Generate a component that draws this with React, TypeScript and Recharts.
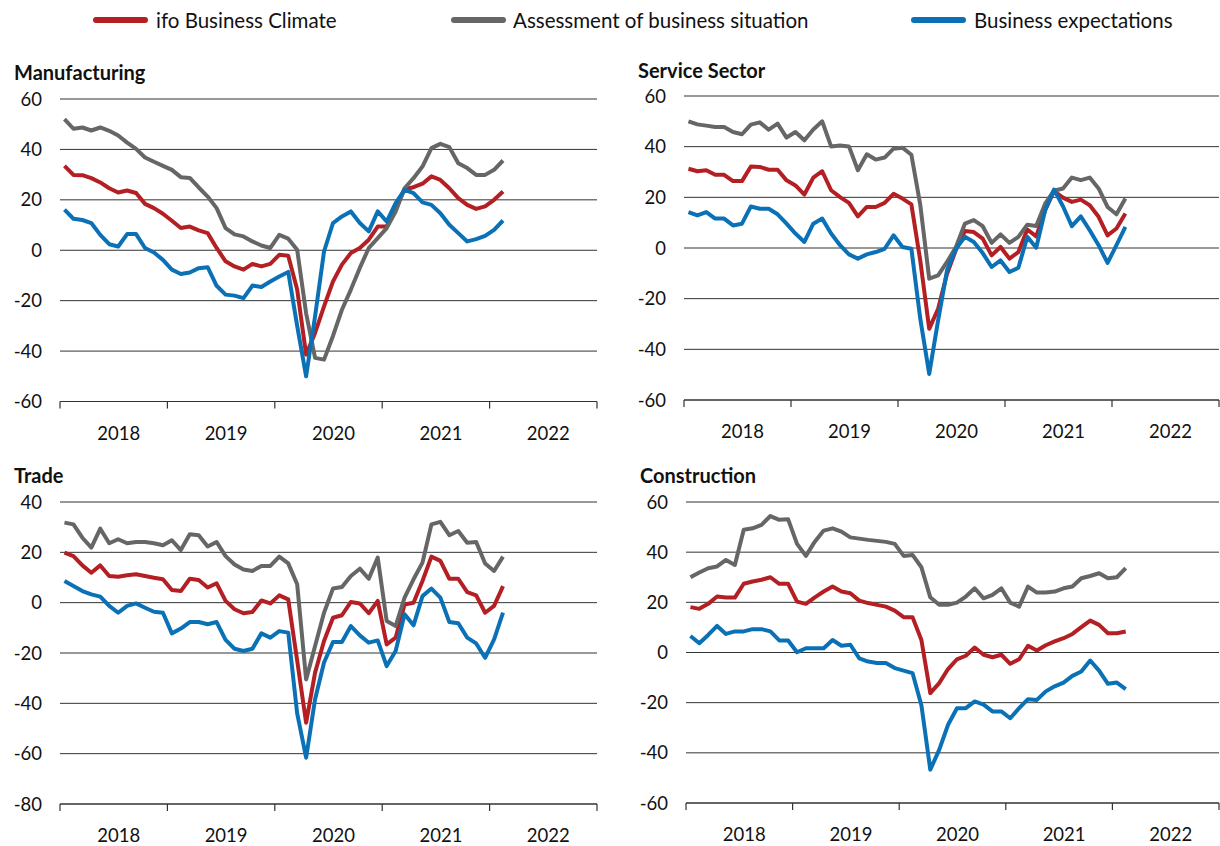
import React from "react";
import { LineChart, Line, XAxis, YAxis, CartesianGrid } from "recharts";

const months = [
  "2018-01", "2018-02", "2018-03", "2018-04", "2018-05", "2018-06", "2018-07", "2018-08", "2018-09", "2018-10", "2018-11", "2018-12",
  "2019-01", "2019-02", "2019-03", "2019-04", "2019-05", "2019-06", "2019-07", "2019-08", "2019-09", "2019-10", "2019-11", "2019-12",
  "2020-01", "2020-02", "2020-03", "2020-04", "2020-05", "2020-06", "2020-07", "2020-08", "2020-09", "2020-10", "2020-11", "2020-12",
  "2021-01", "2021-02", "2021-03", "2021-04", "2021-05", "2021-06", "2021-07", "2021-08", "2021-09", "2021-10", "2021-11", "2021-12",
  "2022-01", "2022-02",
];
const yearLabels = ["2018", "2019", "2020", "2021", "2022"];

// manufacturing
const mfgClimate = [33.5, 29.9, 29.8, 28.6, 26.9, 24.6, 22.9, 23.7, 22.7, 18.4, 16.7, 14.5, 11.7, 8.8, 9.4, 7.9, 6.8, 0.9, -4.4, -6.4, -7.7, -5.4, -6.4, -5.4, -1.8, -2.2, -15.6, -41.4, -32.8, -22.3, -12.4, -5.7, -1.1, 0.9, 4.2, 9.4, 9.4, 16.7, 24.2, 25.0, 26.4, 29.3, 27.9, 24.6, 20.7, 18.0, 16.4, 17.4, 20.0, 23.3];
const mfgSituation = [52.0, 48.2, 48.7, 47.5, 48.7, 47.4, 45.5, 42.7, 40.2, 36.8, 35.1, 33.5, 31.9, 29.0, 28.7, 24.9, 21.3, 16.7, 8.8, 6.3, 5.5, 3.5, 1.9, 0.9, 6.1, 4.6, 0.2, -25, -42.7, -43.4, -34, -23.6, -15.6, -7, 0.9, 4.8, 8.8, 15.4, 24.6, 28.6, 33.2, 40.5, 42.2, 40.9, 34.5, 32.6, 29.9, 29.9, 31.9, 35.6];
const mfgExpectations = [16.1, 12.5, 12.0, 10.8, 6.1, 2.4, 1.5, 6.4, 6.4, 0.9, -0.9, -3.8, -7.7, -9.4, -8.8, -7.1, -6.7, -14.1, -17.6, -18.0, -19.0, -14.0, -14.6, -12.4, -10.4, -8.6, -30, -50, -26.2, -0.5, 10.8, 13.4, 15.4, 10.8, 7.5, 15.4, 11.4, 18.7, 24.0, 22.7, 19.0, 18.0, 14.7, 10.1, 6.8, 3.5, 4.4, 5.7, 8.1, 11.8];

// services
const svcClimate = [31.3, 30.3, 30.7, 28.9, 28.9, 26.4, 26.4, 32.2, 32.0, 30.9, 30.9, 26.7, 24.7, 21.1, 27.8, 30.3, 22.8, 20.1, 17.8, 12.5, 16.2, 16.2, 17.8, 21.4, 19.5, 17.2, -5, -31.9, -24.0, -10.2, -0.7, 6.7, 6.3, 3.7, -2.9, 0.4, -4.2, -1.6, 7.3, 4.6, 14.9, 22.4, 19.9, 18.2, 19.1, 16.9, 12.3, 5.0, 7.7, 13.6];
const svcSituation = [50.0, 48.8, 48.3, 47.8, 47.8, 45.8, 44.9, 48.7, 49.6, 46.7, 49.1, 43.6, 45.8, 42.5, 46.8, 50.0, 40.1, 40.5, 40.1, 30.7, 37.0, 34.9, 35.7, 39.2, 39.6, 36.8, 17, -12.1, -10.8, -5.5, 0.4, 9.6, 11.0, 8.6, 2.0, 5.4, 2.0, 4.4, 9.2, 8.7, 17.5, 22.6, 23.5, 27.8, 26.8, 27.8, 23.5, 16.2, 13.3, 19.5];
const svcExpectations = [14.2, 12.9, 14.2, 11.6, 11.6, 8.9, 9.6, 16.4, 15.5, 15.5, 13.3, 9.6, 5.7, 2.4, 9.6, 11.6, 5.7, 1.1, -2.5, -4.2, -2.5, -1.6, -0.3, 5.0, 0.4, -0.3, -28, -49.7, -28.6, -8.8, -0.3, 4.4, 2.4, -2.0, -7.5, -4.9, -9.5, -7.8, 4.4, 0.1, 14.9, 23.1, 16.5, 8.6, 12.5, 7.0, 1.1, -5.9, 1.1, 8.3];

// trade
const trdClimate = [19.9, 18.5, 14.8, 11.9, 14.8, 10.6, 10.3, 10.9, 11.3, 10.6, 9.9, 9.3, 5.0, 4.6, 9.5, 9.0, 6.0, 7.7, 0.7, -2.6, -4.2, -3.7, 0.9, -0.3, 2.9, 1.3, -23, -47.7, -27.8, -15.2, -6.0, -5.0, 0.3, -0.3, -4.2, 0.7, -16.6, -13.9, -0.7, 0, 8.6, 18.3, 16.6, 9.5, 9.5, 4.2, 2.9, -4.0, -1.3, 6.6];
const trdSituation = [31.8, 31.1, 25.8, 21.9, 29.4, 23.6, 25.2, 23.6, 24.1, 24.1, 23.6, 22.8, 24.8, 20.9, 27.2, 26.8, 22.3, 24.1, 18.5, 15.2, 13.2, 12.6, 14.6, 14.6, 18.3, 15.6, 7.3, -30.5, -17.2, -4.0, 5.6, 6.2, 10.6, 13.5, 9.5, 17.9, -7.3, -9.3, 2.0, 9.3, 15.9, 31.1, 32.1, 26.8, 28.5, 23.8, 24.1, 15.6, 12.6, 18.3];
const trdExpectations = [8.6, 6.6, 4.6, 3.3, 2.4, -1.3, -4.0, -1.3, -0.3, -2.0, -3.6, -4.0, -12.2, -10.3, -7.7, -7.7, -8.6, -7.7, -14.8, -18.3, -19.2, -18.3, -12.2, -13.9, -11.3, -11.9, -44, -61.6, -38.4, -23.8, -15.6, -15.6, -9.3, -13.0, -15.9, -15.0, -25.2, -19.2, -4.6, -9.0, 2.6, 5.6, 2.0, -7.7, -8.2, -13.9, -16.2, -21.9, -14.6, -4.0];

// construction
const conClimate = [18.1, 17.4, 19.4, 22.3, 21.9, 21.9, 27.4, 28.3, 29.0, 30.0, 27.4, 27.4, 20.3, 19.4, 22.0, 24.3, 26.3, 24.3, 23.6, 20.7, 19.7, 19.0, 18.3, 16.7, 14.1, 14.1, 5.0, -16.2, -12.2, -6.6, -2.7, -1.3, 2.0, -0.9, -1.9, -0.9, -4.5, -2.7, 2.7, 0.8, 2.9, 4.4, 5.7, 7.4, 10.1, 12.7, 11.0, 7.7, 7.7, 8.4];
const conSituation = [30.0, 31.9, 33.6, 34.3, 36.9, 34.9, 48.9, 49.5, 50.9, 54.4, 52.9, 53.1, 43.3, 38.5, 44.2, 48.6, 49.5, 48.2, 45.9, 45.4, 44.9, 44.5, 44.1, 43.3, 38.5, 38.9, 34.0, 22.0, 19.0, 19.0, 19.9, 22.3, 25.6, 21.6, 23.0, 25.6, 19.9, 18.3, 26.3, 23.9, 23.9, 24.3, 25.6, 26.3, 29.6, 30.5, 31.6, 29.6, 30.0, 33.6];
const conExpectations = [6.6, 3.7, 7.0, 10.6, 7.4, 8.4, 8.4, 9.3, 9.3, 8.4, 4.8, 4.8, 0.1, 1.7, 1.7, 1.7, 5.0, 2.7, 3.1, -2.3, -3.6, -4.2, -4.2, -6.2, -7.2, -8.2, -21, -46.7, -38.8, -28.8, -22.2, -22.2, -19.5, -20.8, -23.5, -23.5, -26.2, -22.2, -18.6, -18.9, -15.5, -13.5, -12.0, -9.3, -7.6, -3.2, -7.2, -12.5, -12.0, -14.6];

const ticks60 = [-60, -40, -20, 0, 20, 40, 60];
const ticks40 = [-80, -60, -40, -20, 0, 20, 40];
const xTicks = [0, 6, 12, 18, 24, 30, 36, 42, 48, 54, 60];

const RED = "#b41f24";
const GRAY = "#666666";
const BLUE = "#0b71b6";
const FONT = "Lato, 'Open Sans', sans-serif";

function toRows(a: number[], b: number[], c: number[]) {
  // each month sits in the middle of its slot between year ticks
  return months.map((m, i) => ({ x: i + 0.5, month: m, climate: a[i], situation: b[i], expectations: c[i] }));
}

function YearTick(props: any) {
  const { x, y, payload } = props;
  const v = payload.value;
  if (v % 12 === 0) {
    return <line x1={x} x2={x} y1={y - 7} y2={y} stroke="#333" strokeWidth={1.2} />;
  }
  return (
    <text x={x + 5} y={y + 24} textAnchor="middle" dominantBaseline="central" fontSize={18.5} fill="#111" fontFamily={FONT}>
      {yearLabels[(v - 6) / 12]}
    </text>
  );
}

function Panel({ title, titleX, titleY, left, top, plotW, plotH, domain, yTicks, rows }: any) {
  return (
    <>
      <div style={{ position: "absolute", left: titleX, top: titleY - 12, fontFamily: FONT, fontWeight: 700, fontSize: 20, lineHeight: "24px", color: "#111" }}>
        {title}
      </div>
      <div style={{ position: "absolute", left: left - 60, top: top - 20 }}>
        <LineChart width={plotW + 70} height={plotH + 70} data={rows} margin={{ top: 20, right: 10, left: 0, bottom: 0 }}>
          <CartesianGrid vertical={false} stroke="#333" strokeWidth={1} />
          <XAxis
            type="number"
            dataKey="x"
            domain={[0, 60]}
            ticks={xTicks}
            interval={0}
            tickLine={false}
            tickSize={7}
            tickMargin={0}
            tick={<YearTick />}
            axisLine={{ stroke: "#333", strokeWidth: 1.2 }}
            height={50}
          />
          <YAxis
            domain={domain}
            ticks={yTicks}
            interval={0}
            width={60}
            axisLine={false}
            tickLine={false}
            tickSize={0}
            tickMargin={18}
            tick={{ fontSize: 18.5, fill: "#111", fontFamily: FONT }}
          />
          <Line type="linear" dataKey="climate" stroke={RED} strokeWidth={4} dot={false} isAnimationActive={false} strokeLinejoin="round" />
          <Line type="linear" dataKey="situation" stroke={GRAY} strokeWidth={4} dot={false} isAnimationActive={false} strokeLinejoin="round" />
          <Line type="linear" dataKey="expectations" stroke={BLUE} strokeWidth={4} dot={false} isAnimationActive={false} strokeLinejoin="round" />
        </LineChart>
      </div>
    </>
  );
}

function LegendItem({ x, color, label, textX }: any) {
  return (
    <>
      <div style={{ position: "absolute", left: x, top: 17, width: 55, height: 6, borderRadius: 3, background: color }} />
      <div style={{ position: "absolute", left: textX, top: 7, fontFamily: FONT, fontSize: 20.5, lineHeight: "26px", color: "#111", whiteSpace: "nowrap" }}>
        {label}
      </div>
    </>
  );
}

export default function App() {
  return (
    <div style={{ position: "absolute", left: 0, top: 0, width: 1220, height: 846, overflow: "hidden", background: "#fff" }}>
      <LegendItem x={93} color={RED} label="ifo Business Climate" textX={156} />
      <LegendItem x={451} color={GRAY} label="Assessment of business situation" textX={513} />
      <LegendItem x={911} color={BLUE} label="Business expectations" textX={974} />

      <Panel title="Manufacturing" titleX={14} titleY={72} left={60} top={99} plotW={537} plotH={302.5}
        domain={[-60, 60]} yTicks={ticks60} rows={toRows(mfgClimate, mfgSituation, mfgExpectations)} />
      <Panel title="Service Sector" titleX={638} titleY={70} left={684} top={96} plotW={535} plotH={304}
        domain={[-60, 60]} yTicks={ticks60} rows={toRows(svcClimate, svcSituation, svcExpectations)} />
      <Panel title="Trade" titleX={14} titleY={475} left={60} top={502} plotW={537} plotH={302}
        domain={[-80, 40]} yTicks={ticks40} rows={toRows(trdClimate, trdSituation, trdExpectations)} />
      <Panel title="Construction" titleX={640} titleY={475} left={686} top={502} plotW={533} plotH={301}
        domain={[-60, 60]} yTicks={ticks60} rows={toRows(conClimate, conSituation, conExpectations)} />
    </div>
  );
}
